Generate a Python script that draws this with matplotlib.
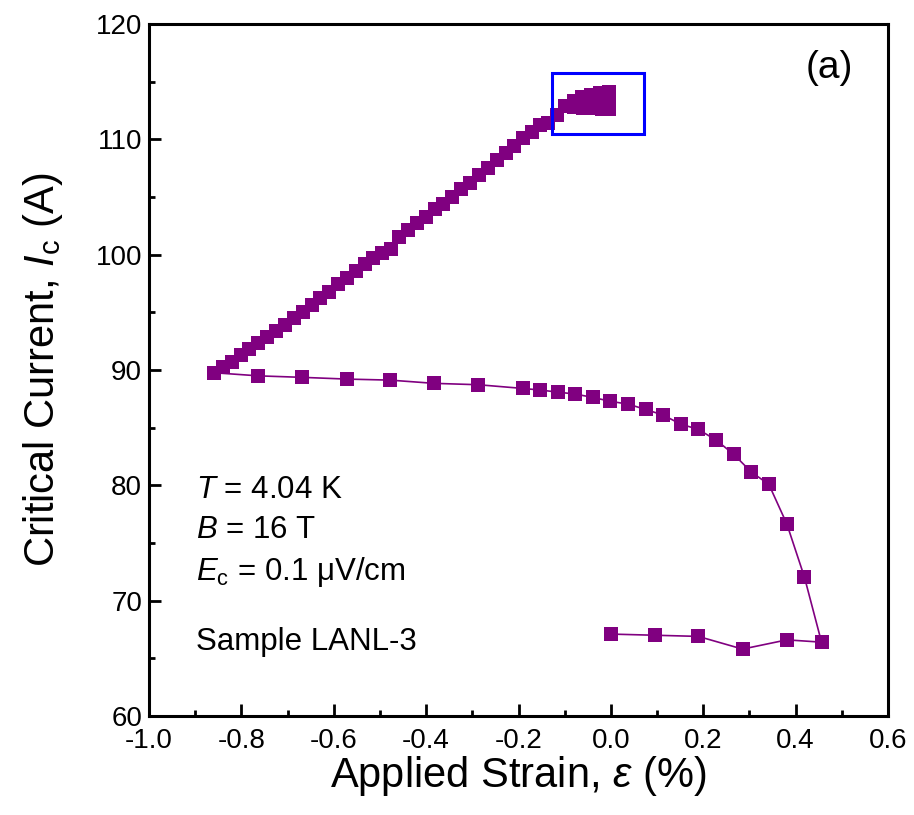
import matplotlib
matplotlib.use("Agg")
import matplotlib.pyplot as plt
import matplotlib.patches as patches
import numpy as np

plt.rcParams['font.family'] = ['Liberation Sans', 'DejaVu Sans']
plt.rcParams['mathtext.fontset'] = 'custom'
plt.rcParams['mathtext.rm'] = 'Liberation Sans'
plt.rcParams['mathtext.it'] = 'Liberation Sans:italic'

# 초기 측정 (파란 박스 안 밀집 구간)
cluster_strain = [-0.005, -0.005, -0.005, -0.005, -0.005, -0.020, -0.040, -0.060, -0.080,
                  -0.080, -0.062, -0.043, -0.024, -0.005, -0.024, -0.043, -0.062, -0.080, -0.099]
cluster_ic = [112.65, 112.95, 113.25, 113.55, 113.85, 112.65, 112.70, 112.75, 112.80,
              113.35, 113.65, 113.85, 114.00, 114.10, 113.30, 113.20, 113.10, 113.00, 112.90]

# 압축 방향 (위쪽 가지, 변형률 감소)
upper_strain = [-0.117, -0.136, -0.153, -0.171, -0.190, -0.209, -0.228, -0.247, -0.267, -0.286,
                -0.305, -0.325, -0.343, -0.363, -0.381, -0.400, -0.419, -0.439, -0.458, -0.477,
                -0.496, -0.514, -0.532, -0.552, -0.571, -0.590, -0.610, -0.629, -0.648, -0.667,
                -0.686, -0.706, -0.725, -0.744, -0.763, -0.783, -0.801, -0.820, -0.839, -0.859]
upper_ic = [112.12, 111.45, 111.25, 110.67, 110.09, 109.43, 108.79, 108.21, 107.49, 106.91,
            106.25, 105.67, 105.03, 104.40, 103.94, 103.30, 102.72, 102.14, 101.56, 100.46,
            100.17, 99.68, 99.19, 98.61, 97.95, 97.43, 96.79, 96.22, 95.64, 95.06,
            94.48, 93.90, 93.35, 92.83, 92.31, 91.79, 91.29, 90.71, 90.28, 89.76]

# 인장 방향 (아래쪽 가지)
lower_strain = [-0.763, -0.668, -0.572, -0.478, -0.383, -0.287, -0.191, -0.153, -0.115, -0.077,
                -0.039, -0.001, 0.037, 0.075, 0.113, 0.151, 0.189, 0.228, 0.266, 0.304,
                0.342, 0.381, 0.419, 0.456]
lower_ic = [89.49, 89.36, 89.21, 89.12, 88.84, 88.72, 88.40, 88.26, 88.08, 87.91,
            87.62, 87.28, 87.04, 86.58, 86.09, 85.31, 84.85, 83.92, 82.68, 81.15,
            80.08, 76.64, 72.04, 66.40]

# 하중 제거 후 0으로 복귀
return_strain = [0.381, 0.285, 0.189, 0.095, 0.0]
return_ic = [66.6, 65.8, 66.9, 67.0, 67.1]

box_x = (-0.128, 0.0717)
box_y = (110.46, 115.75)

strain = cluster_strain + upper_strain + lower_strain + return_strain
ic = cluster_ic + upper_ic + lower_ic + return_ic

fig = plt.figure(figsize=(9.14, 8.15), dpi=100)
ax = fig.add_axes([0.163, 0.1215, 0.8086, 0.8491])

ax.plot(strain, ic, color='#800080', lw=1.2, marker='s', ms=9.5, mew=0)

rect = patches.Rectangle((box_x[0], box_y[0]), box_x[1] - box_x[0], box_y[1] - box_y[0],
                         fill=False, edgecolor='#0000FF', lw=2.2, zorder=5)
ax.add_patch(rect)

ax.set_xlim(-1.0, 0.6)
ax.set_ylim(60, 120)
ax.set_xticks(np.arange(-1.0, 0.61, 0.2))
ax.set_xticks(np.arange(-0.9, 0.6, 0.2), minor=True)
ax.set_yticks(np.arange(60, 121, 10))
ax.set_yticks(np.arange(65, 120, 10), minor=True)
ax.set_xticklabels(['-1.0', '-0.8', '-0.6', '-0.4', '-0.2', '0.0', '0.2', '0.4', '0.6'])

for s in ax.spines.values():
    s.set_linewidth(2.2)
ax.tick_params(which='major', direction='in', length=8.5, width=2, labelsize=20)
ax.tick_params(axis='x', which='major', pad=9)
ax.tick_params(axis='y', which='major', pad=5)
ax.tick_params(which='minor', direction='in', length=4.5, width=2)

ax.set_xlabel('Applied Strain, $\\varepsilon$ (%)', fontsize=30, labelpad=0)
ax.set_ylabel('Critical Current, $I_{\\rm c}$ (A)', fontsize=30, labelpad=22)

ax.text(0.0636, 0.315, '$T$ = 4.04 K', transform=ax.transAxes, fontsize=22.5, va='baseline')
ax.text(0.0636, 0.257, '$B$ = 16 T', transform=ax.transAxes, fontsize=22.5, va='baseline')
ax.text(0.0636, 0.1965, '$E_{\\rm c}$ = 0.1 μV/cm', transform=ax.transAxes, fontsize=22.5, va='baseline')
ax.text(0.0636, 0.0954, 'Sample LANL-3', transform=ax.transAxes, fontsize=22.5, va='baseline')
ax.text(0.92, 0.922, '(a)', transform=ax.transAxes, fontsize=28, va='baseline', ha='center')

fig.savefig('out.png', dpi=100)
